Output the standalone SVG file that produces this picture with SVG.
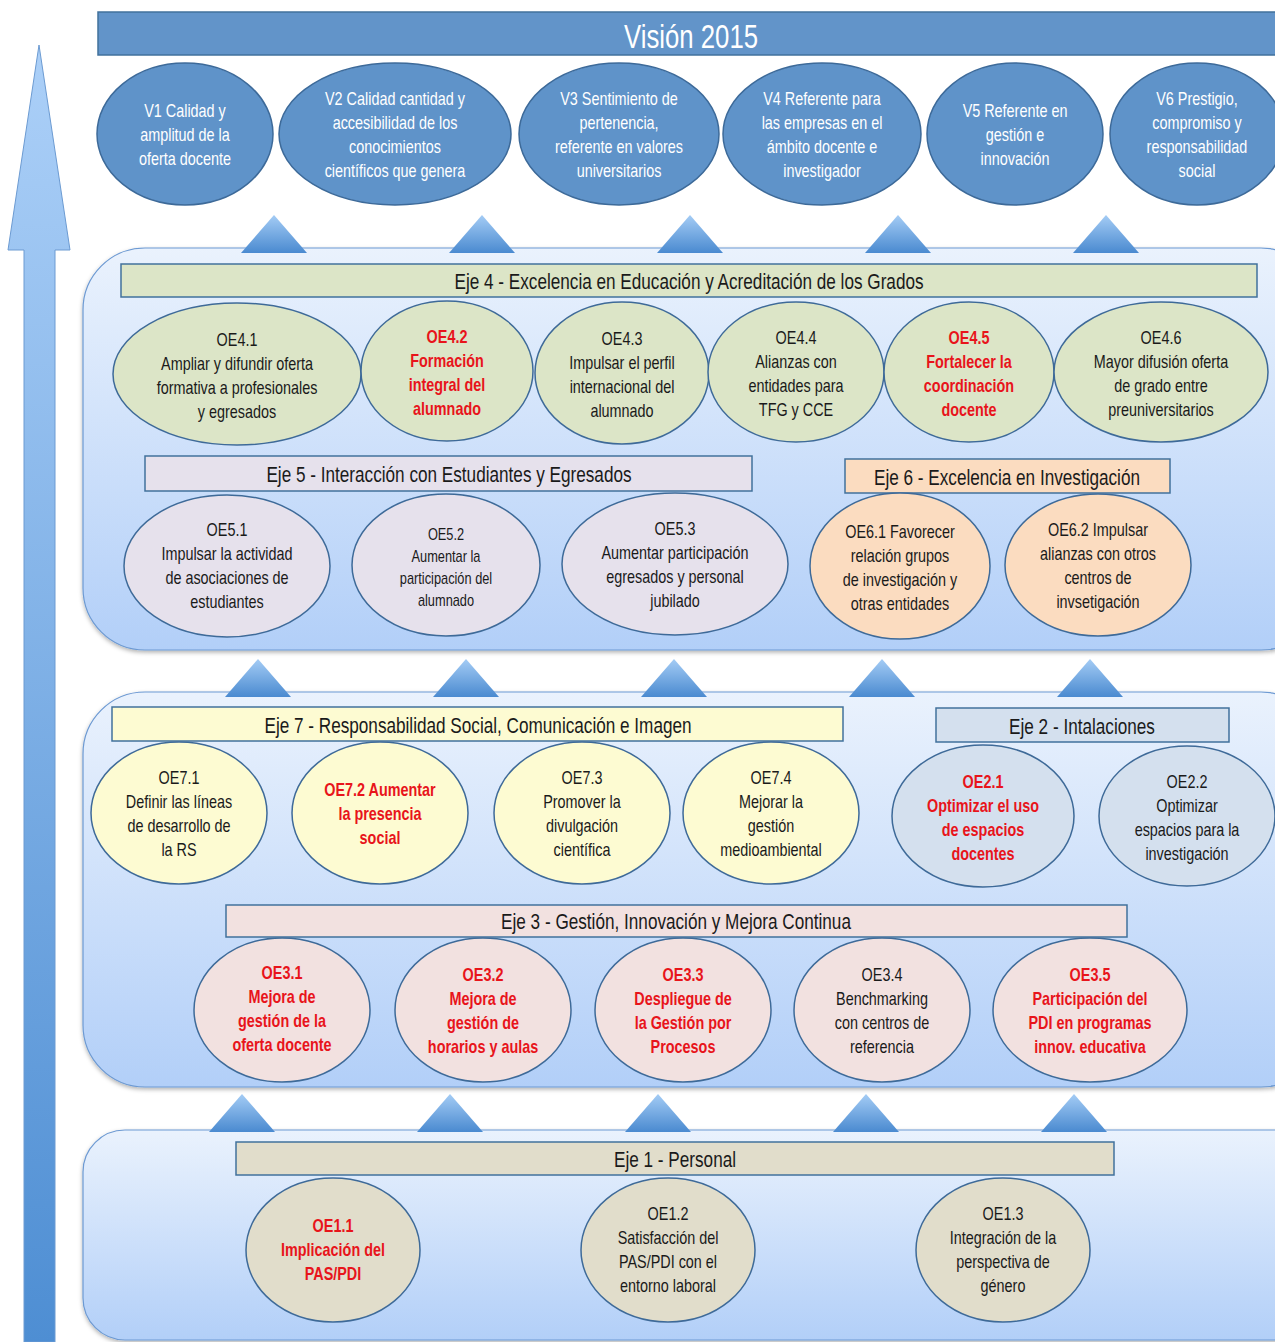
<svg xmlns="http://www.w3.org/2000/svg" width="1275" height="1342" viewBox="0 0 1275 1342">
<defs>
<linearGradient id="gArrow" x1="0" y1="0" x2="0" y2="1">
<stop offset="0" stop-color="#acd0f8"/><stop offset="1" stop-color="#4e8ed3"/>
</linearGradient>
<linearGradient id="gTri" x1="0" y1="0" x2="0" y2="1">
<stop offset="0" stop-color="#a4ccf5"/><stop offset="1" stop-color="#4a8ad0"/>
</linearGradient>
<linearGradient id="gPanel" x1="0" y1="0" x2="0" y2="1">
<stop offset="0" stop-color="#eaf2fd"/><stop offset="1" stop-color="#b2cff8"/>
</linearGradient>
<filter id="sh" x="-5%" y="-5%" width="110%" height="115%">
<feDropShadow dx="0" dy="2" stdDeviation="2" flood-color="#000" flood-opacity="0.3"/>
</filter>
<path id="tri" d="M-33,0 L0,-38 L33,0 Z"/>
</defs>
<style>
text{font-family:"Liberation Sans",Arial,sans-serif;text-anchor:middle;}
.v{fill:#5f93c9;stroke:#3d6a99;stroke-width:1.5;}
.vt{fill:#ffffff;font-size:18px;}
.panel{fill:url(#gPanel);stroke:#6d9ad3;stroke-width:1.2;filter:url(#sh);}
.bar{stroke:#41719c;stroke-width:1.5;}
.bt{fill:#1a1a1a;font-size:22px;}
.oe{stroke:#3e6a98;stroke-width:1.5;}
.t{fill:#1a1a1a;font-size:18px;}
.s{fill:#1a1a1a;font-size:16px;}
.r{fill:#e8141b;font-size:18px;font-weight:bold;}
.g4{fill:#dce5c7;}
.g5{fill:#e6e1ec;}
.g6{fill:#fbdcc0;}
.g7{fill:#fdfbd2;}
.g2{fill:#d4e0ee;}
.g3{fill:#f2e1e0;}
.g1{fill:#e1ddcb;}
.tri{fill:url(#gTri);}
</style>
<rect width="1275" height="1342" fill="#ffffff"/>

<!-- big left arrow -->
<g id="axis-arrow">
<path d="M39,45 L70,250 L55,250 L55,1342 L24,1342 L24,250 L8,250 Z" fill="url(#gArrow)" stroke="#6c9bd2" stroke-width="1"/>
</g>

<!-- header -->
<g id="vision">
<rect x="98" y="12" width="1190" height="43" fill="#6294c9" stroke="#41719c" stroke-width="1.5"/>
<text transform="matrix(0.78 0 0 1 691 0)" x="0" y="48" style="fill:#fff;font-size:33px">Visión 2015</text>
</g>

<!-- vision nodes -->
<g id="V1"><ellipse class="v" cx="185" cy="134" rx="88" ry="71"/>
<g transform="matrix(0.8 0 0 1 185 0)"><text class="vt" x="0" y="117">V1 Calidad y</text><text class="vt" x="0" y="141">amplitud de la</text><text class="vt" x="0" y="165">oferta docente</text></g></g>
<g id="V2"><ellipse class="v" cx="395" cy="134" rx="116" ry="71"/>
<g transform="matrix(0.8 0 0 1 395 0)"><text class="vt" x="0" y="105">V2 Calidad  cantidad y</text><text class="vt" x="0" y="129">accesibilidad de los</text><text class="vt" x="0" y="153">conocimientos</text><text class="vt" x="0" y="177">científicos que genera</text></g></g>
<g id="V3"><ellipse class="v" cx="619" cy="134" rx="100" ry="71"/>
<g transform="matrix(0.8 0 0 1 619 0)"><text class="vt" x="0" y="105">V3 Sentimiento de</text><text class="vt" x="0" y="129">pertenencia,</text><text class="vt" x="0" y="153">referente en valores</text><text class="vt" x="0" y="177">universitarios</text></g></g>
<g id="V4"><ellipse class="v" cx="822" cy="134" rx="99" ry="71"/>
<g transform="matrix(0.8 0 0 1 822 0)"><text class="vt" x="0" y="105">V4 Referente para</text><text class="vt" x="0" y="129">las empresas en el</text><text class="vt" x="0" y="153">ámbito docente e</text><text class="vt" x="0" y="177">investigador</text></g></g>
<g id="V5"><ellipse class="v" cx="1015" cy="134" rx="88" ry="71"/>
<g transform="matrix(0.8 0 0 1 1015 0)"><text class="vt" x="0" y="117">V5 Referente en</text><text class="vt" x="0" y="141">gestión e</text><text class="vt" x="0" y="165">innovación</text></g></g>
<g id="V6"><ellipse class="v" cx="1197" cy="134" rx="87" ry="71"/>
<g transform="matrix(0.8 0 0 1 1197 0)"><text class="vt" x="0" y="105">V6 Prestigio,</text><text class="vt" x="0" y="129">compromiso y</text><text class="vt" x="0" y="153">responsabilidad</text><text class="vt" x="0" y="177">social</text></g></g>

<!-- panels -->
<g id="panel-top"><rect class="panel" x="83" y="248" width="1240" height="402" rx="62" ry="62"/></g>
<g id="panel-mid"><rect class="panel" x="83" y="692" width="1240" height="395" rx="62" ry="62"/></g>
<g id="panel-bot"><rect class="panel" x="83" y="1130" width="1240" height="210" rx="42" ry="42"/></g>

<!-- connectors (up triangles) -->
<g id="connectors">
<use href="#tri" class="tri" x="274" y="253"/>
<use href="#tri" class="tri" x="482" y="253"/>
<use href="#tri" class="tri" x="690" y="253"/>
<use href="#tri" class="tri" x="898" y="253"/>
<use href="#tri" class="tri" x="1106" y="253"/>
<use href="#tri" class="tri" x="258" y="697"/>
<use href="#tri" class="tri" x="466" y="697"/>
<use href="#tri" class="tri" x="674" y="697"/>
<use href="#tri" class="tri" x="882" y="697"/>
<use href="#tri" class="tri" x="1090" y="697"/>
<use href="#tri" class="tri" x="242" y="1132"/>
<use href="#tri" class="tri" x="450" y="1132"/>
<use href="#tri" class="tri" x="658" y="1132"/>
<use href="#tri" class="tri" x="866" y="1132"/>
<use href="#tri" class="tri" x="1074" y="1132"/>
</g>

<!-- Eje 4 -->
<g id="eje4"><rect class="bar g4" x="121" y="264" width="1136" height="33"/>
<text class="bt" transform="matrix(0.78 0 0 1 689 0)" x="0" y="289">Eje 4 - Excelencia en Educación y Acreditación de los Grados</text></g>
<g id="OE4.1"><ellipse class="oe g4" cx="237" cy="374" rx="124" ry="71"/>
<g transform="matrix(0.8 0 0 1 237 0)"><text class="t" x="0" y="346">OE4.1</text><text class="t" x="0" y="370">Ampliar y difundir oferta</text><text class="t" x="0" y="394">formativa a profesionales</text><text class="t" x="0" y="418">y egresados</text></g></g>
<g id="OE4.2"><ellipse class="oe g4" cx="447" cy="371" rx="86" ry="70"/>
<g transform="matrix(0.8 0 0 1 447 0)"><text class="r" x="0" y="343">OE4.2</text><text class="r" x="0" y="367">Formación</text><text class="r" x="0" y="391">integral del</text><text class="r" x="0" y="415">alumnado</text></g></g>
<g id="OE4.3"><ellipse class="oe g4" cx="622" cy="373" rx="87" ry="71"/>
<g transform="matrix(0.8 0 0 1 622 0)"><text class="t" x="0" y="345">OE4.3</text><text class="t" x="0" y="369">Impulsar el perfil</text><text class="t" x="0" y="393">internacional del</text><text class="t" x="0" y="417">alumnado</text></g></g>
<g id="OE4.4"><ellipse class="oe g4" cx="796" cy="372" rx="88" ry="70"/>
<g transform="matrix(0.8 0 0 1 796 0)"><text class="t" x="0" y="344">OE4.4</text><text class="t" x="0" y="368">Alianzas con</text><text class="t" x="0" y="392">entidades para</text><text class="t" x="0" y="416">TFG y CCE</text></g></g>
<g id="OE4.5"><ellipse class="oe g4" cx="969" cy="372" rx="85" ry="70"/>
<g transform="matrix(0.8 0 0 1 969 0)"><text class="r" x="0" y="344">OE4.5</text><text class="r" x="0" y="368">Fortalecer la</text><text class="r" x="0" y="392">coordinación</text><text class="r" x="0" y="416">docente</text></g></g>
<g id="OE4.6"><ellipse class="oe g4" cx="1161" cy="372" rx="107" ry="70"/>
<g transform="matrix(0.8 0 0 1 1161 0)"><text class="t" x="0" y="344">OE4.6</text><text class="t" x="0" y="368">Mayor difusión oferta</text><text class="t" x="0" y="392">de grado entre</text><text class="t" x="0" y="416">preuniversitarios</text></g></g>

<!-- Eje 5 -->
<g id="eje5"><rect class="bar g5" x="145" y="456" width="607" height="35"/>
<text class="bt" transform="matrix(0.78 0 0 1 449 0)" x="0" y="482">Eje 5 - Interacción con Estudiantes y Egresados</text></g>
<g id="OE5.1"><ellipse class="oe g5" cx="227" cy="566" rx="103" ry="71"/>
<g transform="matrix(0.8 0 0 1 227 0)"><text class="t" x="0" y="536">OE5.1</text><text class="t" x="0" y="560">Impulsar la actividad</text><text class="t" x="0" y="584">de asociaciones de</text><text class="t" x="0" y="608">estudiantes</text></g></g>
<g id="OE5.2"><ellipse class="oe g5" cx="446" cy="565" rx="94" ry="71"/>
<g transform="matrix(0.8 0 0 1 446 0)"><text class="s" x="0" y="540">OE5.2</text><text class="s" x="0" y="562">Aumentar la</text><text class="s" x="0" y="584">participación del</text><text class="s" x="0" y="606">alumnado</text></g></g>
<g id="OE5.3"><ellipse class="oe g5" cx="675" cy="564" rx="113" ry="71"/>
<g transform="matrix(0.8 0 0 1 675 0)"><text class="t" x="0" y="535">OE5.3</text><text class="t" x="0" y="559">Aumentar participación</text><text class="t" x="0" y="583">egresados y personal</text><text class="t" x="0" y="607">jubilado</text></g></g>

<!-- Eje 6 -->
<g id="eje6"><rect class="bar g6" x="845" y="459" width="325" height="34"/>
<text class="bt" transform="matrix(0.78 0 0 1 1007 0)" x="0" y="485">Eje 6 - Excelencia en Investigación</text></g>
<g id="OE6.1"><ellipse class="oe g6" cx="900" cy="566" rx="90" ry="73"/>
<g transform="matrix(0.8 0 0 1 900 0)"><text class="t" x="0" y="538">OE6.1 Favorecer</text><text class="t" x="0" y="562">relación grupos</text><text class="t" x="0" y="586">de investigación y</text><text class="t" x="0" y="610">otras entidades</text></g></g>
<g id="OE6.2"><ellipse class="oe g6" cx="1098" cy="565" rx="93" ry="71"/>
<g transform="matrix(0.8 0 0 1 1098 0)"><text class="t" x="0" y="536">OE6.2 Impulsar</text><text class="t" x="0" y="560">alianzas con otros</text><text class="t" x="0" y="584">centros de</text><text class="t" x="0" y="608">invsetigación</text></g></g>

<!-- Eje 7 -->
<g id="eje7"><rect class="bar g7" x="112" y="707" width="731" height="34"/>
<text class="bt" transform="matrix(0.78 0 0 1 478 0)" x="0" y="733">Eje 7 - Responsabilidad Social, Comunicación e Imagen</text></g>
<g id="OE7.1"><ellipse class="oe g7" cx="179" cy="813" rx="88" ry="71"/>
<g transform="matrix(0.8 0 0 1 179 0)"><text class="t" x="0" y="784">OE7.1</text><text class="t" x="0" y="808">Definir las líneas</text><text class="t" x="0" y="832">de desarrollo de</text><text class="t" x="0" y="856">la RS</text></g></g>
<g id="OE7.2"><ellipse class="oe g7" cx="380" cy="813" rx="88" ry="71"/>
<g transform="matrix(0.8 0 0 1 380 0)"><text class="r" x="0" y="796">OE7.2 Aumentar</text><text class="r" x="0" y="820">la presencia</text><text class="r" x="0" y="844">social</text></g></g>
<g id="OE7.3"><ellipse class="oe g7" cx="582" cy="813" rx="88" ry="71"/>
<g transform="matrix(0.8 0 0 1 582 0)"><text class="t" x="0" y="784">OE7.3</text><text class="t" x="0" y="808">Promover la</text><text class="t" x="0" y="832">divulgación</text><text class="t" x="0" y="856">científica</text></g></g>
<g id="OE7.4"><ellipse class="oe g7" cx="771" cy="813" rx="88" ry="71"/>
<g transform="matrix(0.8 0 0 1 771 0)"><text class="t" x="0" y="784">OE7.4</text><text class="t" x="0" y="808">Mejorar la</text><text class="t" x="0" y="832">gestión</text><text class="t" x="0" y="856">medioambiental</text></g></g>

<!-- Eje 2 -->
<g id="eje2"><rect class="bar g2" x="936" y="708" width="293" height="34"/>
<text class="bt" transform="matrix(0.78 0 0 1 1082 0)" x="0" y="734">Eje 2 - Intalaciones</text></g>
<g id="OE2.1"><ellipse class="oe g2" cx="983" cy="816" rx="91" ry="71"/>
<g transform="matrix(0.8 0 0 1 983 0)"><text class="r" x="0" y="788">OE2.1</text><text class="r" x="0" y="812">Optimizar el uso</text><text class="r" x="0" y="836">de espacios</text><text class="r" x="0" y="860">docentes</text></g></g>
<g id="OE2.2"><ellipse class="oe g2" cx="1187" cy="816" rx="88" ry="70"/>
<g transform="matrix(0.8 0 0 1 1187 0)"><text class="t" x="0" y="788">OE2.2</text><text class="t" x="0" y="812">Optimizar</text><text class="t" x="0" y="836">espacios para la</text><text class="t" x="0" y="860">investigación</text></g></g>

<!-- Eje 3 -->
<g id="eje3"><rect class="bar g3" x="226" y="905" width="901" height="32"/>
<text class="bt" transform="matrix(0.78 0 0 1 676 0)" x="0" y="929">Eje 3 - Gestión, Innovación y Mejora Continua</text></g>
<g id="OE3.1"><ellipse class="oe g3" cx="282" cy="1010" rx="88" ry="72"/>
<g transform="matrix(0.8 0 0 1 282 0)"><text class="r" x="0" y="979">OE3.1</text><text class="r" x="0" y="1003">Mejora de</text><text class="r" x="0" y="1027">gestión de la</text><text class="r" x="0" y="1051">oferta docente</text></g></g>
<g id="OE3.2"><ellipse class="oe g3" cx="483" cy="1010" rx="88" ry="72"/>
<g transform="matrix(0.8 0 0 1 483 0)"><text class="r" x="0" y="981">OE3.2</text><text class="r" x="0" y="1005">Mejora de</text><text class="r" x="0" y="1029">gestión de</text><text class="r" x="0" y="1053">horarios y aulas</text></g></g>
<g id="OE3.3"><ellipse class="oe g3" cx="683" cy="1010" rx="88" ry="72"/>
<g transform="matrix(0.8 0 0 1 683 0)"><text class="r" x="0" y="981">OE3.3</text><text class="r" x="0" y="1005">Despliegue de</text><text class="r" x="0" y="1029">la Gestión por</text><text class="r" x="0" y="1053">Procesos</text></g></g>
<g id="OE3.4"><ellipse class="oe g3" cx="882" cy="1010" rx="88" ry="72"/>
<g transform="matrix(0.8 0 0 1 882 0)"><text class="t" x="0" y="981">OE3.4</text><text class="t" x="0" y="1005">Benchmarking</text><text class="t" x="0" y="1029">con centros  de</text><text class="t" x="0" y="1053">referencia</text></g></g>
<g id="OE3.5"><ellipse class="oe g3" cx="1090" cy="1010" rx="97" ry="72"/>
<g transform="matrix(0.8 0 0 1 1090 0)"><text class="r" x="0" y="981">OE3.5</text><text class="r" x="0" y="1005">Participación del</text><text class="r" x="0" y="1029">PDI en programas</text><text class="r" x="0" y="1053">innov. educativa</text></g></g>

<!-- Eje 1 -->
<g id="eje1"><rect class="bar g1" x="236" y="1142" width="878" height="33"/>
<text class="bt" transform="matrix(0.78 0 0 1 675 0)" x="0" y="1167">Eje 1 - Personal</text></g>
<g id="OE1.1"><ellipse class="oe g1" cx="333" cy="1250" rx="87" ry="72"/>
<g transform="matrix(0.8 0 0 1 333 0)"><text class="r" x="0" y="1232">OE1.1</text><text class="r" x="0" y="1256">Implicación del</text><text class="r" x="0" y="1280">PAS/PDI</text></g></g>
<g id="OE1.2"><ellipse class="oe g1" cx="668" cy="1250" rx="87" ry="72"/>
<g transform="matrix(0.8 0 0 1 668 0)"><text class="t" x="0" y="1220">OE1.2</text><text class="t" x="0" y="1244">Satisfacción del</text><text class="t" x="0" y="1268">PAS/PDI con el</text><text class="t" x="0" y="1292">entorno laboral</text></g></g>
<g id="OE1.3"><ellipse class="oe g1" cx="1003" cy="1250" rx="87" ry="72"/>
<g transform="matrix(0.8 0 0 1 1003 0)"><text class="t" x="0" y="1220">OE1.3</text><text class="t" x="0" y="1244">Integración de la</text><text class="t" x="0" y="1268">perspectiva de</text><text class="t" x="0" y="1292">género</text></g></g>
</svg>
